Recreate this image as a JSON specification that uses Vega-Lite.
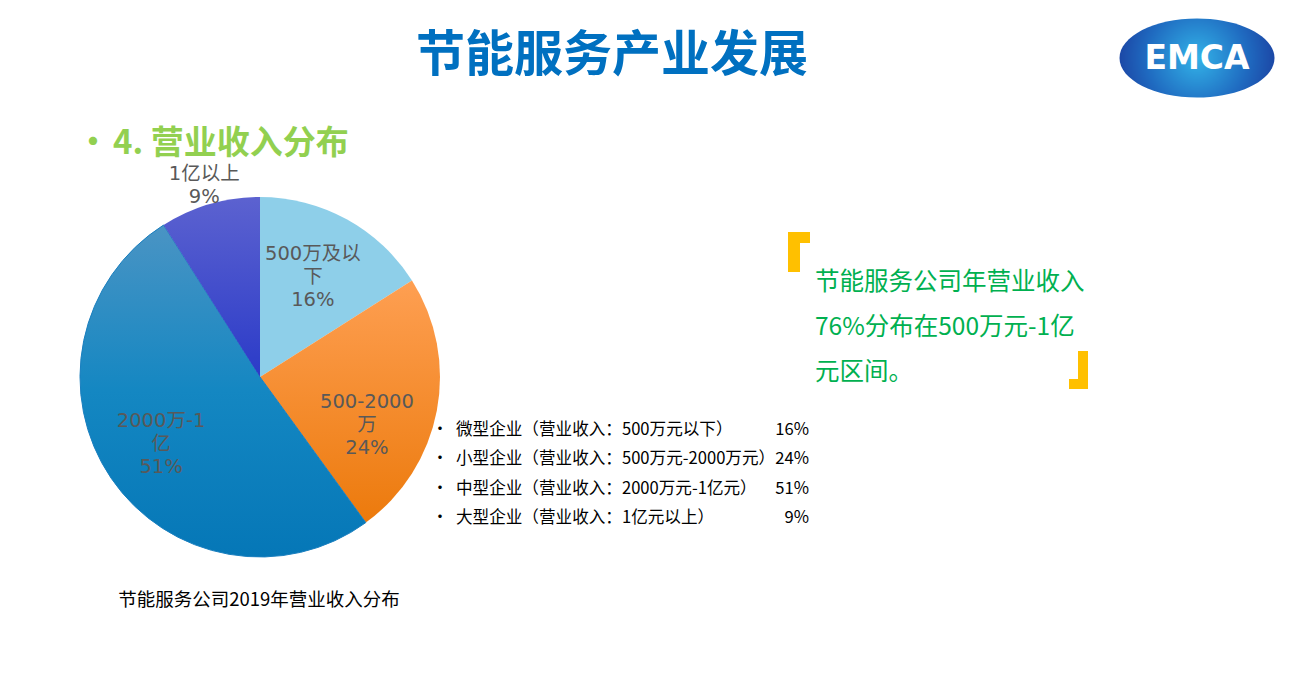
{
  "$schema": "https://vega.github.io/schema/vega-lite/v6.json",
  "width": 1292,
  "height": 676,
  "autosize": {"type": "none"},
  "padding": 0,
  "background": "white",
  "config": {"view": {"stroke": null}},
  "data": {
    "values": [
      {"o": 1, "seg": "500万及以下", "label": "500万及以\n下\n16%", "pct": 16, "desc": "微型企业（营业收入：500万元以下）", "share": "16%"},
      {"o": 2, "seg": "500-2000万", "label": "500-2000\n万\n24%", "pct": 24, "desc": "小型企业（营业收入：500万元-2000万元）", "share": "24%"},
      {"o": 3, "seg": "2000万-1亿", "label": "2000万-1\n亿\n51%", "pct": 51, "desc": "中型企业（营业收入：2000万元-1亿元）", "share": "51%"},
      {"o": 4, "seg": "1亿以上", "label": "1亿以上\n9%", "pct": 9, "desc": "大型企业（营业收入：1亿元以上）", "share": "9%"}
    ]
  },
  "layer": [
    {
      "mark": {"type": "arc", "x": 260, "y": 377, "outerRadius": 180, "strokeWidth": 1},
      "encoding": {
        "theta": {"field": "pct", "type": "quantitative", "stack": true},
        "order": {"field": "o", "type": "quantitative"},
        "fill": {
          "condition": [
            {"test": "datum.o === 1", "value": "#8ECFE9"},
            {"test": "datum.o === 2", "value": {"gradient": "linear", "x1": 0, "y1": 0, "x2": 0, "y2": 1, "stops": [{"offset": 0, "color": "#FE9F52"}, {"offset": 1, "color": "#EC7A0C"}]}},
            {"test": "datum.o === 3", "value": {"gradient": "linear", "x1": 0, "y1": 0, "x2": 0, "y2": 1, "stops": [{"offset": 0, "color": "#4A94C4"}, {"offset": 0.5, "color": "#1487C2"}, {"offset": 1, "color": "#0577B7"}]}}
          ],
          "value": {"gradient": "linear", "x1": 0, "y1": 0, "x2": 0, "y2": 1, "stops": [{"offset": 0, "color": "#5C62D0"}, {"offset": 1, "color": "#2B3BC8"}]}
        },
        "stroke": {"condition": {"test": "datum.o === 3", "value": "#1A7FBF"}, "value": null}
      }
    },
    {
      "mark": {"type": "text", "x": 260, "y": 377, "radius": 116, "dx": -3, "dy": -21, "lineBreak": "\n", "font": "DejaVu Sans, Noto Sans CJK SC", "fontSize": 19.5, "lineHeight": 23, "fill": "#595959", "align": "center", "baseline": "middle"},
      "encoding": {
        "theta": {"field": "pct", "type": "quantitative", "stack": true},
        "order": {"field": "o", "type": "quantitative"},
        "text": {"condition": {"test": "datum.o === 2 || datum.o === 4", "value": ""}, "field": "label"}
      }
    },
    {
      "mark": {"type": "text", "x": 260, "y": 377, "radius": 116, "dx": -7, "dy": 3, "lineBreak": "\n", "font": "DejaVu Sans, Noto Sans CJK SC", "fontSize": 19.5, "lineHeight": 23, "fill": "#595959", "align": "center", "baseline": "middle"},
      "encoding": {
        "theta": {"field": "pct", "type": "quantitative", "stack": true},
        "order": {"field": "o", "type": "quantitative"},
        "text": {"condition": {"test": "datum.o !== 2", "value": ""}, "field": "label"}
      }
    },
    {
      "mark": {"type": "text", "x": 260, "y": 377, "radius": 200, "dy": -11, "lineBreak": "\n", "font": "DejaVu Sans, Noto Sans CJK SC", "fontSize": 19.5, "lineHeight": 23, "fill": "#595959", "align": "center", "baseline": "middle"},
      "encoding": {
        "theta": {"field": "pct", "type": "quantitative", "stack": true},
        "order": {"field": "o", "type": "quantitative"},
        "text": {"condition": {"test": "datum.o !== 4", "value": ""}, "field": "label"}
      }
    },
    {
      "mark": {"type": "text", "x": 440, "font": "Noto Sans CJK SC", "fontSize": 16.5, "fill": "#000000", "align": "center", "baseline": "middle", "text": "•"},
      "encoding": {
        "y": {"field": "o", "type": "quantitative", "scale": {"domain": [1, 4], "range": [430, 518]}, "axis": null}
      }
    },
    {
      "mark": {"type": "text", "x": 456, "font": "Noto Sans CJK SC", "fontSize": 16.6, "fill": "#000000", "align": "left", "baseline": "middle"},
      "encoding": {
        "y": {"field": "o", "type": "quantitative", "scale": {"domain": [1, 4], "range": [430, 518]}, "axis": null},
        "text": {"field": "desc"}
      }
    },
    {
      "mark": {"type": "text", "x": 809, "font": "Noto Sans CJK SC", "fontSize": 16.6, "fill": "#000000", "align": "right", "baseline": "middle"},
      "encoding": {
        "y": {"field": "o", "type": "quantitative", "scale": {"domain": [1, 4], "range": [430, 518]}, "axis": null},
        "text": {"field": "share"}
      }
    },
    {
      "data": {"values": [{}]},
      "mark": {"type": "text", "x": 612, "y": 71, "font": "Noto Sans CJK SC", "fontWeight": "bold", "fontSize": 49, "fill": "#0070C0", "align": "center", "baseline": "alphabetic", "text": "节能服务产业发展"},
      "encoding": {}
    },
    {
      "data": {"values": [{}]},
      "mark": {"type": "point", "x": 1197, "y": 58, "shape": "M-1,0A1,0.51,0,1,1,1,0A1,0.51,0,1,1,-1,0Z", "size": 24025, "filled": true, "opacity": 1, "strokeWidth": 0,
        "fill": {"gradient": "radial", "x1": 0.5, "y1": 0.5, "r1": 0, "x2": 0.5, "y2": 0.5, "r2": 0.6, "stops": [{"offset": 0, "color": "#33B3E8"}, {"offset": 0.55, "color": "#1F6AC0"}, {"offset": 1, "color": "#1A3497"}]}},
      "encoding": {}
    },
    {
      "data": {"values": [{}]},
      "mark": {"type": "text", "x": 1197, "y": 59, "font": "DejaVu Sans", "fontWeight": "bold", "fontSize": 33, "fill": "#FFFFFF", "align": "center", "baseline": "middle", "text": "EMCA"},
      "encoding": {}
    },
    {
      "data": {"values": [{}]},
      "mark": {"type": "text", "x": 93, "y": 153, "font": "Noto Sans CJK SC", "fontWeight": "bold", "fontSize": 32, "fill": "#92D050", "align": "center", "baseline": "alphabetic", "text": "•"},
      "encoding": {}
    },
    {
      "data": {"values": [{}]},
      "mark": {"type": "text", "x": 113, "y": 154, "font": "Noto Sans CJK SC", "fontWeight": "bold", "fontSize": 33, "fill": "#92D050", "align": "left", "baseline": "alphabetic", "text": "4. 营业收入分布"},
      "encoding": {}
    },
    {
      "data": {"values": [{}]},
      "mark": {"type": "text", "x": 259, "y": 600, "font": "Noto Sans CJK SC", "fontSize": 18.5, "fill": "#000000", "align": "center", "baseline": "middle", "text": "节能服务公司2019年营业收入分布"},
      "encoding": {}
    },
    {
      "data": {"values": [{}]},
      "mark": {"type": "text", "x": 815, "y": 290, "font": "Noto Sans CJK SC", "fontSize": 24.5, "lineHeight": 45, "lineBreak": "\n", "fill": "#00B050", "align": "left", "baseline": "alphabetic", "text": "节能服务公司年营业收入\n76%分布在500万元-1亿\n元区间。"},
      "encoding": {}
    },
    {
      "data": {"values": [{}]},
      "mark": {"type": "rect", "x": 788, "x2": 810, "y": 232, "y2": 243, "fill": "#FFC000"},
      "encoding": {}
    },
    {
      "data": {"values": [{}]},
      "mark": {"type": "rect", "x": 788, "x2": 800, "y": 232, "y2": 272, "fill": "#FFC000"},
      "encoding": {}
    },
    {
      "data": {"values": [{}]},
      "mark": {"type": "rect", "x": 1078, "x2": 1088, "y": 351, "y2": 389, "fill": "#FFC000"},
      "encoding": {}
    },
    {
      "data": {"values": [{}]},
      "mark": {"type": "rect", "x": 1069, "x2": 1088, "y": 379, "y2": 389, "fill": "#FFC000"},
      "encoding": {}
    }
  ]
}
